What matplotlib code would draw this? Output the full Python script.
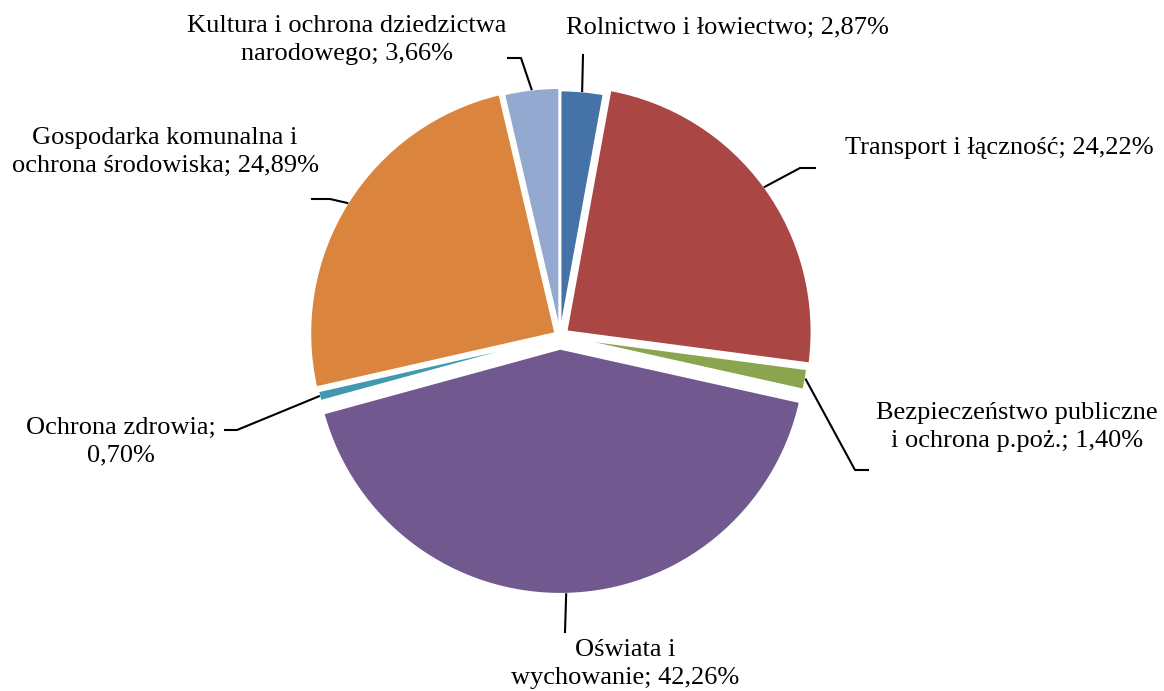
import numpy as np
import matplotlib.pyplot as plt

plt.rcParams['font.family'] = ['Liberation Serif', 'DejaVu Serif']

# Data (clockwise from 12 o'clock)
labels = ['Rolnictwo i łowiectwo; 2,87%',
          'Transport i łączność; 24,22%',
          'Bezpieczeństwo publiczne\ni ochrona p.poż.; 1,40%',
          'Oświata i\nwychowanie; 42,26%',
          'Ochrona zdrowia;\n0,70%',
          'Gospodarka komunalna i\nochrona środowiska; 24,89%',
          'Kultura i ochrona dziedzictwa\nnarodowego; 3,66%']
values = [2.87, 24.22, 1.40, 42.26, 0.70, 24.89, 3.66]
colors = ['#4572A7', '#AA4643', '#89A54E', '#71588F', '#4198AF', '#DB843D', '#93A9CF']
explode = [0.0, 0.03, 0.015, 0.05, 0.01, 0.02, 0.01]

W, H = 1164, 691
cx, cy, R = 560, 336, 246

fig = plt.figure(figsize=(W / 100, H / 100), dpi=100)
ax = fig.add_axes([0, 0, 1, 1])

# y axis inverted so everything is in image pixels; angles run clockwise on screen
# (pie's explode is in data units, so scale by radius)
wedges, _ = ax.pie(values, colors=colors, explode=[e * R for e in explode],
                   startangle=270, counterclock=True, center=(cx, cy), radius=R,
                   wedgeprops=dict(edgecolor='white', linewidth=2))
ax.set_xlim(0, W)
ax.set_ylim(H, 0)
ax.set_aspect('equal')
ax.axis('off')

# label layout: (text x, text y, ha, leader line points after the wedge edge)
layout = [
    (566, 28, 'left', [(583, 55)]),
    (999, 148, 'center', [(800, 168), (815, 168)]),
    (1017, 427, 'center', [(855, 470), (868, 470)]),
    (625, 664, 'center', [(565, 632)]),
    (121, 442, 'center', [(237, 430), (225, 430)]),
    (165, 152, 'center', [(330, 199), (312, 199)]),
    (347, 40, 'center', [(521, 58), (508, 58)]),
]

for w, lab, (tx, ty, ha, pts) in zip(wedges, labels, layout):
    mid = np.deg2rad((w.theta1 + w.theta2) / 2)
    wx, wy = w.center
    sx = wx + w.r * np.cos(mid)
    sy = wy + w.r * np.sin(mid)
    xs = [sx] + [p[0] for p in pts]
    ys = [sy] + [p[1] for p in pts]
    ax.plot(xs, ys, color='black', lw=1.5)
    ax.text(tx, ty, lab, ha=ha, va='center', fontsize=19,
            linespacing=1.32, color='black', multialignment='center')

fig.savefig('out.png', dpi=100)
